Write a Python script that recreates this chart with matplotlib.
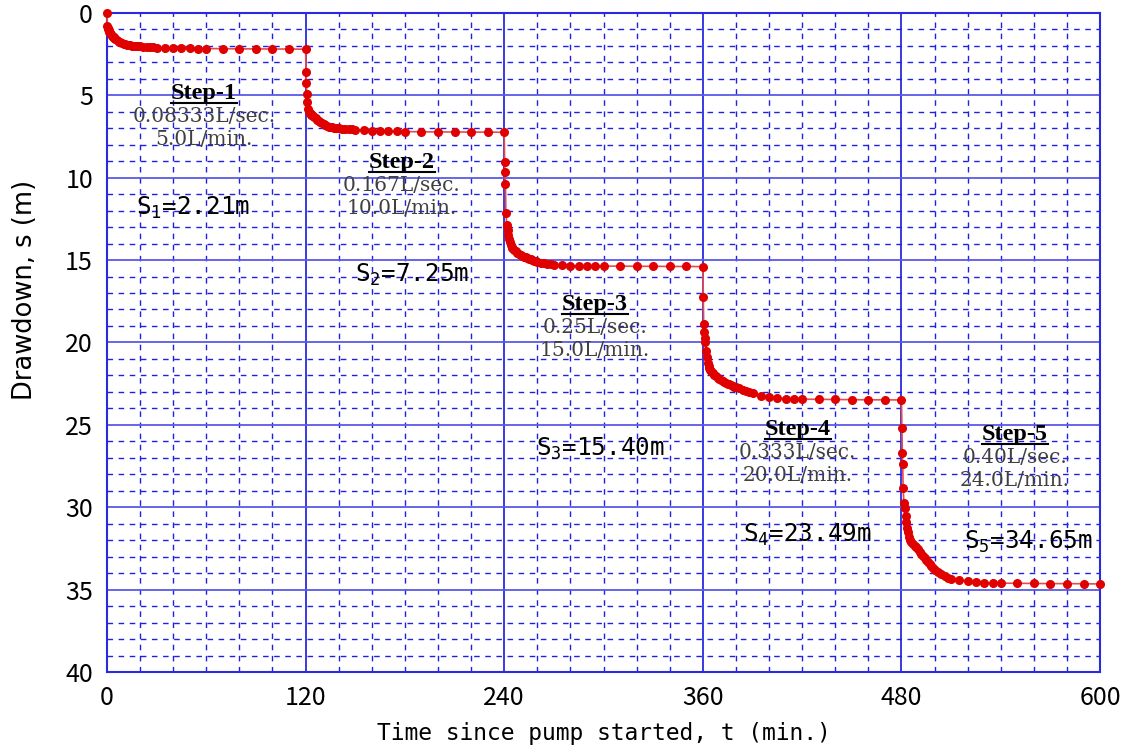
import matplotlib
matplotlib.use("Agg")
import matplotlib.pyplot as plt
from matplotlib import font_manager
from matplotlib.ticker import MultipleLocator
import numpy as np

# step-drawdown test: 5 steps of 120 min each
STEP_START_MIN = [0, 120, 240, 360, 480]
T0, S0 = 0.0, 0.0

# elapsed minutes inside each step at which drawdown was read
REL_T = [0.25, 0.5, 0.75, 1, 1.5, 2, 2.5, 3, 3.5, 4, 4.5, 5,
         6, 7, 8, 9, 10, 11, 12, 13, 14, 15, 16, 17, 18, 19, 20,
         22, 24, 26, 28, 30,
         35, 40, 45, 50, 55, 60,
         70, 80, 90, 100, 110, 120]

STEP1_S = [0.80, 0.90, 0.98, 1.05, 1.15, 1.24, 1.31, 1.38, 1.44, 1.50, 1.55, 1.60,
           1.68, 1.75, 1.80, 1.85, 1.88, 1.91, 1.93, 1.95, 1.97, 1.99, 2.00, 2.01, 2.02, 2.03, 2.04,
           2.06, 2.08, 2.09, 2.10, 2.11,
           2.13, 2.14, 2.15, 2.16, 2.17, 2.17,
           2.18, 2.19, 2.19, 2.20, 2.20, 2.21]
STEP2_S = [3.60, 4.27, 4.90, 5.42, 5.83, 6.00, 6.08, 6.14, 6.19, 6.23, 6.27, 6.31,
           6.40, 6.50, 6.58, 6.65, 6.71, 6.76, 6.81, 6.86, 6.90, 6.93, 6.95, 6.97, 6.99, 7.00, 7.01,
           7.03, 7.05, 7.07, 7.08, 7.10,
           7.13, 7.15, 7.17, 7.19, 7.20, 7.21,
           7.22, 7.23, 7.23, 7.24, 7.24, 7.25]
STEP3_S = [9.05, 9.63, 10.40, 12.15, 12.86, 13.17, 13.47, 13.70, 13.90, 14.08, 14.18, 14.30,
           14.40, 14.48, 14.56, 14.63, 14.69, 14.74, 14.79, 14.84, 14.88, 14.92, 14.96, 15.00, 15.04, 15.07, 15.10,
           15.15, 15.20, 15.23, 15.27, 15.31,
           15.33, 15.34, 15.35, 15.36, 15.36, 15.37,
           15.37, 15.38, 15.38, 15.39, 15.39, 15.40]
STEP4_S = [17.27, 18.87, 19.38, 19.70, 19.98, 20.50, 20.90, 21.26, 21.40, 21.57, 21.66, 21.73,
           21.86, 21.97, 22.05, 22.13, 22.20, 22.27, 22.33, 22.39, 22.45, 22.50, 22.55, 22.60, 22.65, 22.69, 22.72,
           22.78, 22.88, 22.95, 23.02, 23.08,
           23.22, 23.32, 23.37, 23.40, 23.42, 23.44,
           23.45, 23.46, 23.47, 23.48, 23.48, 23.49]
STEP5_S = [25.20, 26.72, 27.37, 28.84, 29.75, 30.06, 30.52, 30.87, 31.27, 31.50, 31.78, 31.98,
           32.12, 32.24, 32.32, 32.40, 32.55, 32.69, 32.82, 32.95, 33.08, 33.20, 33.33, 33.45, 33.58, 33.70, 33.78,
           33.94, 34.06, 34.16, 34.26, 34.32,
           34.40, 34.47, 34.55, 34.57, 34.59, 34.60,
           34.61, 34.62, 34.63, 34.63, 34.64, 34.65]
STEP_S = [STEP1_S, STEP2_S, STEP3_S, STEP4_S, STEP5_S]

STEP_NAMES = ["Step-1", "Step-2", "Step-3", "Step-4", "Step-5"]
RATE_SEC = ["0.08333L/sec.", "0.167L/sec.", "0.25L/sec.", "0.333L/sec.", "0.40L/sec."]
RATE_MIN = ["5.0L/min.", "10.0L/min.", "15.0L/min.", "20.0L/min.", "24.0L/min."]
FINAL_S = ["2.21", "7.25", "15.40", "23.49", "34.65"]

# label anchors (data coords): step block centre, S-label left/baseline
STEP_LABEL_XY = [(58.6, 4.9), (178.2, 9.1), (294.7, 17.7), (417.3, 25.3), (548.4, 25.6)]
S_LABEL_XY = [(17.5, 12.26), (149.8, 16.3), (259.0, 26.9), (384.0, 32.1), (518.0, 32.5)]

XTICKS = [0, 120, 240, 360, 480, 600]
YTICKS = [0, 5, 10, 15, 20, 25, 30, 35, 40]


def pick_font(candidates):
    names = {f.name for f in font_manager.fontManager.ttflist}
    for c in candidates:
        if c in names:
            return c
    return "DejaVu Sans"


TICK_FONT = pick_font(["Liberation Sans Narrow", "Noto Sans CJK JP", "DejaVu Sans"])
TICK_SIZE = {"Liberation Sans Narrow": 21, "Noto Sans CJK JP": 18}.get(TICK_FONT, 16)

t_all = [T0]
s_all = [S0]
for start, values in zip(STEP_START_MIN, STEP_S):
    t_all.extend(start + r for r in REL_T)
    s_all.extend(values)
t_all = np.array(t_all)
s_all = np.array(s_all)

fig = plt.figure(figsize=(11.26, 7.51), dpi=100)
ax = fig.add_axes([0.095, 0.105, 0.882, 0.878])

ax.set_xlim(0, 600)
ax.set_ylim(40, 0)
ax.xaxis.set_major_locator(MultipleLocator(60))
ax.xaxis.set_minor_locator(MultipleLocator(20))
ax.yaxis.set_major_locator(MultipleLocator(5))
ax.yaxis.set_minor_locator(MultipleLocator(1))

ax.grid(which="major", axis="x", color="#2a2ae0", linewidth=1.3, linestyle="-")
ax.grid(which="major", axis="y", color="#5a5ae6", linewidth=1.3, linestyle="-")
ax.grid(which="minor", color="#2020e0", linewidth=1.0, linestyle=(0, (4, 4)))
ax.set_axisbelow(True)
for sp in ax.spines.values():
    sp.set_color("#2a2ae0")
    sp.set_linewidth(1.5)

ax.tick_params(which="both", length=0)
ax.tick_params(axis="x", pad=9)
ax.tick_params(axis="y", pad=10)
ax.set_xticks(XTICKS)
ax.set_xticklabels([str(v) for v in XTICKS], fontfamily=TICK_FONT, fontsize=TICK_SIZE)
ax.set_yticks(YTICKS)
ax.set_yticklabels([str(v) for v in YTICKS], fontfamily=TICK_FONT, fontsize=TICK_SIZE)
ax.xaxis.set_minor_locator(MultipleLocator(20))
ax.yaxis.set_minor_locator(MultipleLocator(1))

ax.plot(t_all, s_all, color="#e84a4a", linewidth=1.2, marker="o",
        markersize=5.5, markerfacecolor="#e00000", markeredgecolor="#e00000",
        clip_on=False, zorder=5)

ax.set_xlabel("Time since pump started, t (min.)", fontfamily="DejaVu Sans Mono",
              fontsize=16.5)
ax.xaxis.set_label_coords(0.5, -0.075)
ax.set_ylabel("Drawdown, s (m)", fontfamily="DejaVu Sans", fontsize=18.5)
ax.yaxis.set_label_coords(-0.069, 0.579)

step_titles = []
for name, rsec, rmin, (x, y) in zip(STEP_NAMES, RATE_SEC, RATE_MIN, STEP_LABEL_XY):
    txt = ax.text(x, y, name, ha="center", va="center", fontfamily="Liberation Serif",
                  fontweight="bold", fontsize=17.5, color="black", zorder=6)
    step_titles.append(txt)
    ax.text(x, y + 1.4, rsec, ha="center", va="center", fontfamily="DejaVu Serif",
            fontsize=14.5, color="#404040", zorder=6)
    ax.text(x, y + 2.8, rmin, ha="center", va="center", fontfamily="DejaVu Serif",
            fontsize=14.5, color="#404040", zorder=6)

for i, (val, (x, y)) in enumerate(zip(FINAL_S, S_LABEL_XY), start=1):
    ax.text(x, y, r"$\mathregular{S_%d}$=%sm" % (i, val), ha="left", va="baseline",
            fontfamily="DejaVu Sans Mono", fontsize=17.5, color="black", zorder=6)

# underline the step titles
fig.canvas.draw()
inv = fig.transFigure.inverted()
for txt in step_titles:
    bb = txt.get_window_extent()
    (x0, y0), (x1, _) = inv.transform([(bb.x0, bb.y0 + 1), (bb.x1, bb.y0 + 1)])
    fig.add_artist(plt.Line2D([x0, x1], [y0, y0], color="black", linewidth=1.5))

fig.savefig("out.png", dpi=100)
plt.close(fig)
